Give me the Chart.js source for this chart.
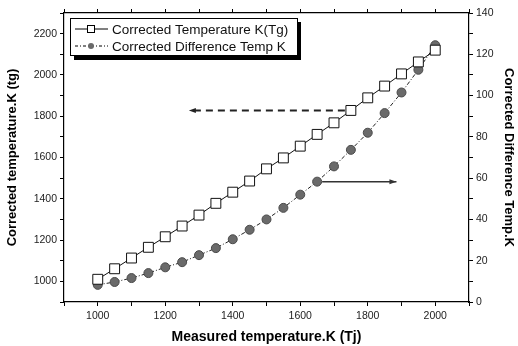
<!DOCTYPE html>
<html>
<head>
<meta charset="utf-8">
<script src="https://cdn.jsdelivr.net/npm/chart.js@4.4.1/dist/chart.umd.min.js"></script>
<style>
  html, body { margin: 0; padding: 0; background: #fff; }
  #wrap { width: 518px; height: 346px; }
</style>
</head>
<body>
<div id="wrap"><canvas id="chart"></canvas></div>
<script>
const measured = [1000, 1050, 1100, 1150, 1200, 1250, 1300, 1350, 1400, 1450, 1500,
                  1550, 1600, 1650, 1700, 1750, 1800, 1850, 1900, 1950, 2000];
const correctedTemp = [1010, 1061, 1113, 1165, 1216, 1268, 1321, 1378, 1432, 1486, 1545,
                       1598, 1655, 1712, 1768, 1828, 1889, 1946, 2005, 2063, 2120];
const differenceTemp = [8.3, 9.7, 11.6, 14, 16.8, 19.3, 22.7, 26.1, 30.4, 35, 40,
                        45.6, 52, 58.3, 65.7, 73.7, 82, 91.5, 101.5, 112.5, 124.4];
const legendLabels = ['Corrected Temperature K(Tg)', 'Corrected Difference Temp K'];

// arrows: [x from, x to, value]
const tempArrow = [1750, 1270, 1828];
const diffArrow = [1650, 1885, 58.3];

const FONT = "'Liberation Sans', Arial, sans-serif";

const toXY = (xs, ys) => xs.map((x, i) => ({ x, y: ys[i] }));

const arrowPlugin = {
  id: 'arrows',
  afterDatasetsDraw(chart) {
    const { ctx, scales } = chart;
    const { x, y, y2 } = scales;
    const draw = (x0, x1, yy, dash, width, color) => {
      ctx.save();
      ctx.strokeStyle = color;
      ctx.fillStyle = color;
      ctx.lineWidth = width;
      ctx.setLineDash(dash);
      ctx.beginPath();
      ctx.moveTo(x0, yy);
      ctx.lineTo(x1, yy);
      ctx.stroke();
      ctx.setLineDash([]);
      const dir = x1 > x0 ? 1 : -1;
      ctx.beginPath();
      ctx.moveTo(x1, yy);
      ctx.lineTo(x1 - dir * 7, yy - 2.5);
      ctx.lineTo(x1 - dir * 7, yy + 2.5);
      ctx.closePath();
      ctx.fill();
      ctx.restore();
    };
    draw(x.getPixelForValue(tempArrow[0]) - 6, x.getPixelForValue(tempArrow[1]),
         y.getPixelForValue(tempArrow[2]), [7, 5], 2, '#222');
    draw(x.getPixelForValue(diffArrow[0]) + 5, x.getPixelForValue(diffArrow[1]),
         y2.getPixelForValue(diffArrow[2]), [], 1.5, '#333');
  }
};

const legendPlugin = {
  id: 'boxLegend',
  afterDraw(chart) {
    const ctx = chart.ctx;
    const bx = 70, by = 18, bw = 227, bh = 37;
    ctx.save();
    ctx.fillStyle = '#000';
    ctx.fillRect(bx + 4, by + 4, bw, bh + 1);
    ctx.fillStyle = '#fff';
    ctx.fillRect(bx, by, bw, bh);
    ctx.strokeStyle = '#000';
    ctx.lineWidth = 1;
    ctx.strokeRect(bx + 0.5, by + 0.5, bw, bh);

    ctx.font = '13.5px ' + FONT;
    ctx.textBaseline = 'middle';
    const rows = [by + 11, by + 28];
    // row 1: solid line with square
    ctx.beginPath();
    ctx.moveTo(75, rows[0]); ctx.lineTo(108, rows[0]);
    ctx.stroke();
    ctx.fillStyle = '#fff';
    ctx.fillRect(87, rows[0] - 3.5, 7, 7);
    ctx.strokeRect(87.5, rows[0] - 3.5, 7, 7);
    // row 2: dash-dot line with circle
    ctx.setLineDash([3, 2, 1, 2]);
    ctx.beginPath();
    ctx.moveTo(75, rows[1]); ctx.lineTo(108, rows[1]);
    ctx.stroke();
    ctx.setLineDash([]);
    ctx.fillStyle = '#6a6a6a';
    ctx.beginPath();
    ctx.arc(91, rows[1], 3, 0, Math.PI * 2);
    ctx.fill();

    ctx.fillStyle = '#111';
    ctx.fillText(legendLabels[0], 112, rows[0] + 1);
    ctx.fillText(legendLabels[1], 112, rows[1] + 1);
    ctx.restore();
  }
};

const minorLabel = (step) => (v) => (Math.round(v) % step === 0 ? v : '');

const tickFont = { family: FONT, size: 10.5 };
const titleFont = { family: FONT, size: 13, weight: 'bold' };

let data = {
  datasets: [
    {
      label: legendLabels[0],
      data: toXY(measured, correctedTemp),
      yAxisID: 'y',
      borderColor: '#111',
      borderWidth: 1,
      pointStyle: 'rect',
      pointRadius: 7,
      pointBackgroundColor: '#fff',
      pointBorderColor: '#111',
      pointBorderWidth: 1,
      tension: 0
    },
    {
      label: legendLabels[1],
      data: toXY(measured, differenceTemp),
      yAxisID: 'y2',
      borderColor: '#222',
      borderWidth: 1,
      borderDash: [4, 2, 1, 2],
      pointStyle: 'circle',
      pointRadius: 4.5,
      pointBackgroundColor: '#6a6a6a',
      pointBorderColor: '#4a4a4a',
      pointBorderWidth: 1,
      tension: 0
    }
  ]
};

let options = {
  responsive: true,
  maintainAspectRatio: false,
  animation: false,
  layout: { padding: 0 },
  plugins: { legend: { display: false }, tooltip: { enabled: false } },
  scales: {
    x: {
      type: 'linear',
      position: 'bottom',
      min: 900, max: 2100,
      afterFit: (s) => { s.height = 44; },
      border: { color: '#000', width: 1.2 },
      grid: { drawOnChartArea: false, tickLength: 4, color: '#000' },
      ticks: { stepSize: 100, autoSkip: false, maxRotation: 0, color: '#222', font: tickFont,
               padding: 4, callback: minorLabel(200) },
      title: { display: true, text: 'Measured temperature.K (Tj)', color: '#000',
               font: { family: FONT, size: 14, weight: 'bold' },
               padding: { top: 4, bottom: 0 } }
    },
    xTop: {
      type: 'linear',
      position: 'top',
      min: 900, max: 2100,
      afterFit: (s) => { s.height = 13; },
      border: { color: '#000', width: 1.2 },
      grid: { drawOnChartArea: false, tickLength: 4, color: '#000' },
      ticks: { stepSize: 100, autoSkip: false, display: false }
    },
    y: {
      type: 'linear',
      position: 'left',
      min: 900, max: 2300,
      afterFit: (s) => { s.width = 64; },
      border: { color: '#000', width: 1.2 },
      grid: { drawOnChartArea: false, tickLength: 4, color: '#000' },
      ticks: { stepSize: 100, autoSkip: false, color: '#222', font: tickFont, padding: 3,
               callback: minorLabel(200) },
      title: { display: true, text: 'Corrected temperature.K (tg)', color: '#000', font: titleFont,
               padding: { top: 5, bottom: 2 } }
    },
    y2: {
      type: 'linear',
      position: 'right',
      min: 0, max: 140,
      afterFit: (s) => { s.width = 49; },
      border: { color: '#000', width: 1.2 },
      grid: { drawOnChartArea: false, tickLength: 4, color: '#000' },
      ticks: { stepSize: 10, autoSkip: false, color: '#222', font: tickFont, padding: 3,
               callback: minorLabel(20) },
      title: { display: true, text: 'Corrected Difference Temp.K', color: '#000', font: titleFont,
               padding: { top: 2, bottom: 0 } }
    }
  }
};

new Chart('chart', { type: 'line', data, options, plugins: [arrowPlugin, legendPlugin] });
</script>
</body>
</html>
